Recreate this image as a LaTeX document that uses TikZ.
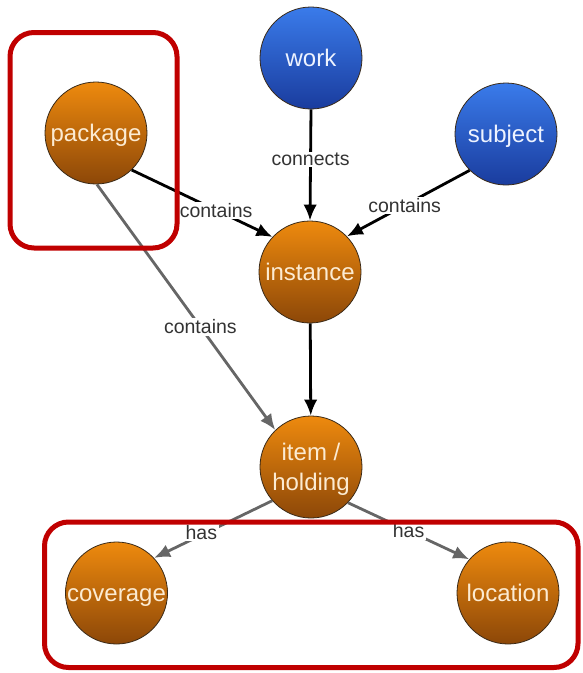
\documentclass[tikz,border=0pt]{standalone}
\usepackage{fontspec}
\setmainfont{Liberation Sans}
\usetikzlibrary{arrows.meta}

\definecolor{orangetop}{HTML}{EE8A0E}
\definecolor{orangebot}{HTML}{8C4708}
\definecolor{orangetext}{HTML}{FCEBD2}
\definecolor{bluetop}{HTML}{3A7BEA}
\definecolor{bluebot}{HTML}{1A3C9E}
\definecolor{bluetext}{HTML}{EEF3FF}
\definecolor{nodeedge}{HTML}{3A2A18}
\definecolor{linkgrey}{HTML}{666666}
\definecolor{labeltext}{HTML}{333333}
\definecolor{boxred}{HTML}{C00000}

\tikzset{
  conceptnode/.style={circle, draw=nodeedge, line width=0.8pt, minimum size=102pt,
    inner sep=0pt, align=center, font=\fontsize{24}{29.5}\selectfont,
    text height=17.3pt, text depth=0pt},
  orangenode/.style={conceptnode, top color=orangetop, bottom color=orangebot, text=orangetext},
  bluenode/.style={conceptnode, top color=bluetop, bottom color=bluebot, text=bluetext},
  darklink/.style={line width=2.8pt, draw=black, -{Latex[length=16pt,width=13.5pt]}},
  greylink/.style={line width=2.8pt, draw=linkgrey, -{Latex[length=16pt,width=13.5pt]}},
  linklabel/.style={fill=white, inner sep=1.5pt, text=labeltext,
    font=\fontsize{19.5}{22}\selectfont},
  groupbox/.style={draw=boxred, line width=5pt, rounded corners=24pt}
}

\begin{document}
\begin{tikzpicture}[x=1pt, y=-1pt]
\useasboundingbox (0,0) rectangle (582,673);

% concepts
\node[orangenode] (package)  at (96,133)  {package};
\node[bluenode]   (work)     at (311,58)  {work};
\node[bluenode]   (subject)  at (506,134) {subject};
\node[orangenode] (instance) at (310,272) {instance};
\node[orangenode, text height=, text depth=-1.5pt] (item) at (311,467) {item /\\holding};
\node[orangenode] (coverage) at (116.5,593) {coverage};
\node[orangenode] (location) at (508,593) {location};

% relations
\draw[greylink] (package.-89) -- node[linklabel, pos=0.58] {contains} (item.134);
\draw[darklink] (package.-46) -- node[linklabel, pos=0.6] {contains} (instance.137);
\draw[darklink] (work.-90) -- node[linklabel, pos=0.45] {connects} (instance.90);
\draw[darklink] (subject.225) -- node[linklabel, pos=0.53] {contains} (instance.44);
\draw[darklink] (instance) -- (item);
\draw[greylink] (item.221) -- node[linklabel, pos=0.6, yshift=3pt] {has} (coverage.43);
\draw[greylink] (item.-44) -- node[linklabel, pos=0.5] {has} (location.139);

% grouping frames, drawn over the connectors
\draw[groupbox] (10,32.5) rectangle (177,248);
\draw[groupbox] (44.5,522) rectangle (578,667.5);
\end{tikzpicture}
\end{document}
